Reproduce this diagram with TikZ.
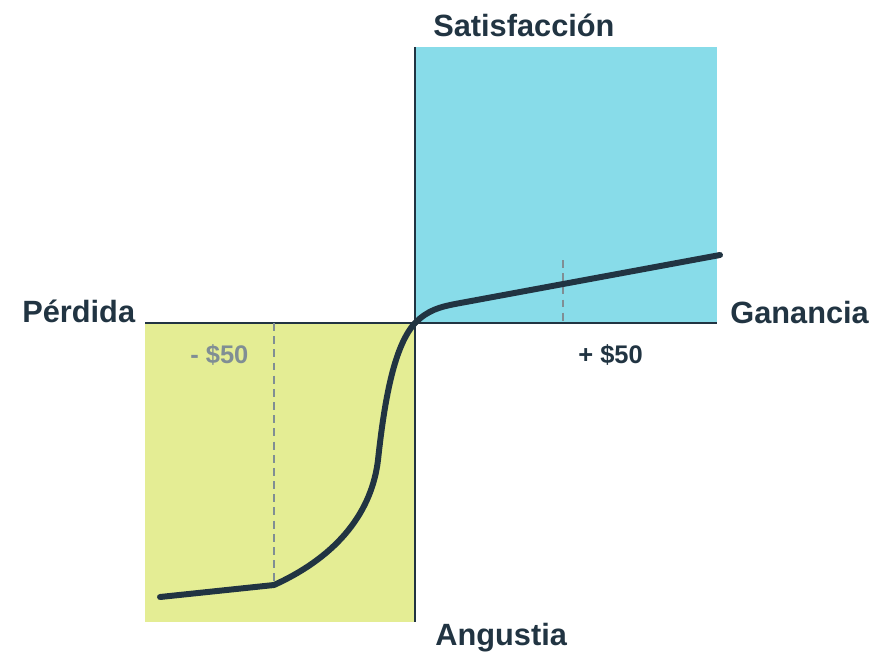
\documentclass[tikz,border=0pt]{standalone}
\usepackage{fontspec}
\setmainfont{Liberation Sans}
\usepackage{xcolor}
\definecolor{cielo}{RGB}{136,220,233}
\definecolor{lima}{RGB}{228,237,148}
\definecolor{tinta}{RGB}{33,52,66}
\definecolor{gris}{RGB}{128,142,148}

\begin{document}
\begin{tikzpicture}[x=0.02cm,y=-0.02cm,
	eje/.style={draw=tinta,line width=1.1pt},
	guia/.style={draw=gris,line width=0.9pt,dash pattern=on 4.5pt off 3pt},
	rotulo/.style={inner sep=0pt,anchor=base west,text=tinta,font=\fontsize{17.5}{20}\selectfont\bfseries},
	monto/.style={inner sep=0pt,anchor=base west,font=\fontsize{14.5}{17}\selectfont\bfseries}]
\useasboundingbox (0,0) rectangle (888,652);
\fill[cielo] (415,47) rectangle (717,323);
\fill[lima] (145,323) rectangle (415,622);
\coordinate (O) at (415,323);
\coordinate (izq) at (145,323);
\coordinate (der) at (717,323);
\coordinate (arr) at (415,47);
\coordinate (aba) at (415,622);
\coordinate (p1) at (274,585);
\coordinate (p1e) at (274,323);
\coordinate (g1) at (563,283);
\coordinate (g1e) at (563,260);
\coordinate (g1b) at (563,323);
% ejes
\draw[eje] (izq) -- (der);
\draw[eje] (arr) -- (aba);
% guias de -50 y +50
\draw[guia] (p1e) -- (p1);
\draw[guia] (g1e) -- (g1b);
% curva de valor
\draw[tinta,line width=3.4pt,line cap=round,line join=round]
	(160,597) -- (p1) .. controls (340,555) and (372,510) .. (378,460)
	.. controls (385,395) and (395,345) .. (O)
	.. controls (428,310) and (440,307) .. (455,304) -- (720,255);
\node[rotulo] (satis) at (433,37) {Satisfacción};
\node[rotulo] (perd) at (22,322) {Pérdida};
\node[rotulo] (gan) at (730,323) {Ganancia};
\node[rotulo] (ang) at (435,645) {Angustia};
\node[monto,text=gris] (menos) at (190,363) {- \$50};
\node[monto,text=tinta] (mas) at (578,363) {+ \$50};
\end{tikzpicture}
\end{document}
